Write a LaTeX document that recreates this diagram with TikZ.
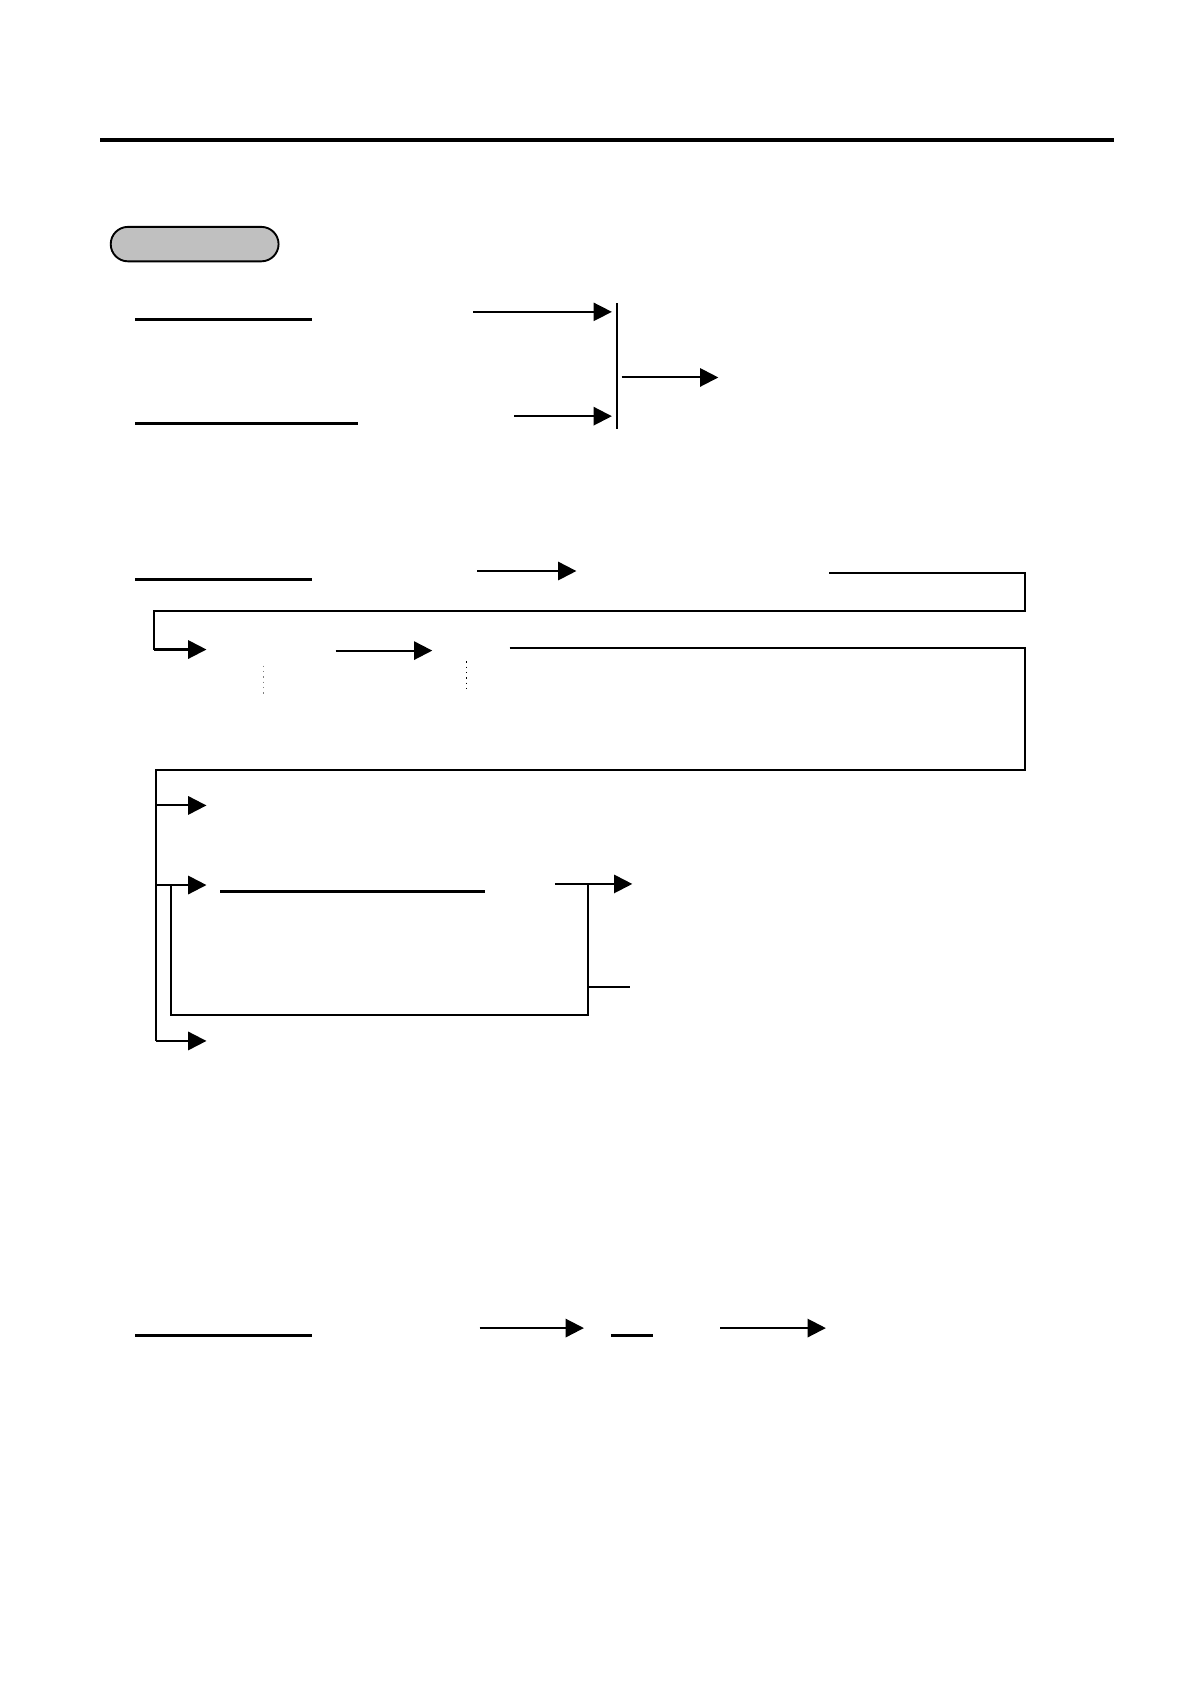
\documentclass[tikz,border=0pt]{standalone}
\usepackage{tikz}
\usetikzlibrary{arrows.meta}
\definecolor{pillgray}{RGB}{192,192,192}
\tikzset{
    flow/.style={line width=0.55pt},
    thinflow/.style={line width=0.4pt},
    arr/.style={line width=0.55pt, -{Triangle[length=0.17cm, width=0.17cm]}},
    uline/.style={line width=0.8pt},
    pill/.style={draw, fill=pillgray, line width=0.5pt, rounded corners=0.16cm,
        minimum width=1.56cm, minimum height=0.32cm, inner sep=0pt},
    dots/.style={gray, densely dotted, line width=0.4pt}
}
\begin{document}
\begin{tikzpicture}[x=0.01cm, y=-0.01cm]
    \useasboundingbox (0,0) rectangle (1106,1566);

    % heading rule and title box
    \draw[line width=1.2pt] (93,130) -- (1036,130);
    \node[pill] (title) at (181,227) {};

    % first block
    \draw[uline] (126,297) -- (290,297);
    \draw[uline] (126,394) -- (333,394);
    \coordinate (bartop) at (574,282);
    \coordinate (barbot) at (574,399);
    \draw[flow] (bartop) -- (barbot);
    \draw[arr, thinflow] (440,290) -- (569,290);
    \draw[arr] (478,387) -- (569,387);
    \draw[arr] (578,351) -- (668,351);

    % second block
    \draw[uline] (126,539) -- (290,539);
    \draw[arr] (444,531) -- (536,531);
    \draw[thinflow] (771,533) -- (953,533) -- (953,568) -- (143,568) -- (143,604);
    \draw[arr] (143,604) -- (192,604);
    \draw[arr] (312,605) -- (402,605);
    \draw[dots] (245,619) -- (245,645);
    \draw[dots, black] (434,615) -- (434,641);
    \draw[flow] (474,603) -- (953,603) -- (953,716) -- (145,716) -- (145,968);
    \foreach \y in {749,823,968}
        \draw[arr] (145,\y) -- (192,\y);

    % inner loop
    \draw[uline] (205,829) -- (451,829);
    \draw[flow] (159,823) -- (159,944) -- (547,944) -- (547,822);
    \draw[arr] (516,822) -- (588,822);
    \draw[thinflow] (547,918) -- (586,918);

    % last block
    \draw[uline] (126,1242) -- (290,1242);
    \draw[arr] (446,1235) -- (543,1235);
    \draw[uline] (568,1242) -- (607,1242);
    \draw[arr] (670,1235) -- (768,1235);
\end{tikzpicture}
\end{document}
